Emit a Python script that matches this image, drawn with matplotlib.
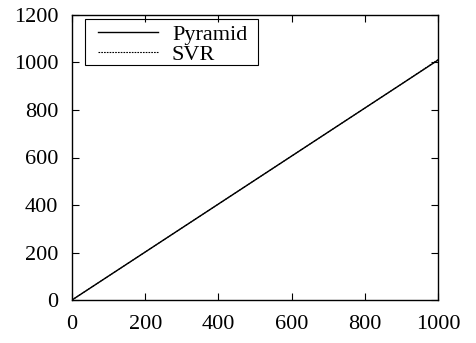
import matplotlib
matplotlib.use('Agg')
import matplotlib.pyplot as plt
from matplotlib.patches import Rectangle

plt.rcParams['font.family'] = ['Liberation Serif', 'DejaVu Serif']

x = [0, 100, 200, 300, 400, 500, 600, 700, 800, 900, 1000]
pyramid = [0, 101, 202, 303, 404, 505, 606, 707, 808, 909, 1010]
svr = [0, 101, 202, 303, 404, 505, 606, 707, 808, 909, 1012]

fig = plt.figure(figsize=(4.76, 3.43), dpi=100)
ax = fig.add_axes([72 / 476, 1 - 300 / 343, 366 / 476, 285 / 343])

ax.plot(x, pyramid, color='black', linewidth=1.0, label='Pyramid')
ax.plot(x, svr, color='black', linewidth=0.8, linestyle=(0, (1.5, 1.0)), label='SVR')

ax.set_xlim(0, 1000)
ax.set_ylim(0, 1200)
ax.set_xticks(range(0, 1001, 200))
ax.set_yticks(range(0, 1201, 200))
ax.tick_params(direction='in', top=True, right=True, length=5, labelsize=16)
ax.tick_params(axis='y', pad=10)
ax.tick_params(axis='x', pad=11)
for s in ax.spines.values():
    s.set_linewidth(1.0)

# legend without its own frame, gnuplot-like box drawn around it
leg = ax.legend(loc='upper left', fontsize=16, frameon=False,
                handlelength=2.7, handletextpad=0.63,
                borderpad=0, labelspacing=0.0, borderaxespad=0,
                bbox_to_anchor=(0.071, 0.968))
ax.add_patch(Rectangle((0.0355, 0.8246), 0.4727, 0.1614, transform=ax.transAxes,
                       fill=False, edgecolor='black', linewidth=0.8, zorder=5))

fig.savefig('out.png', dpi=100)
